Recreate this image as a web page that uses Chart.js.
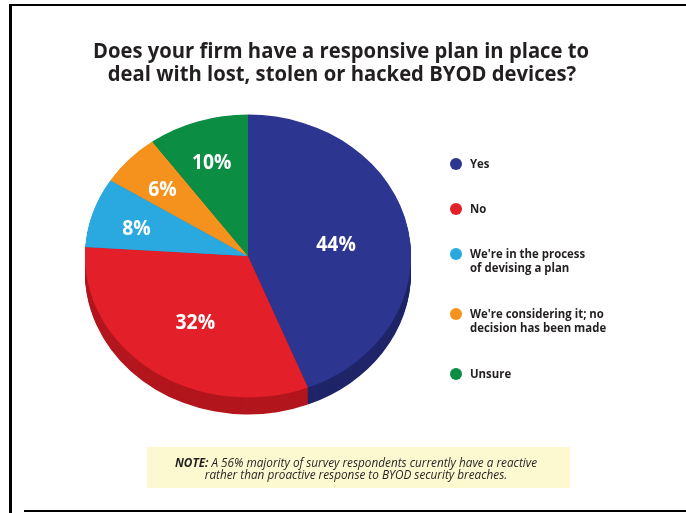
<!DOCTYPE html>
<html>
<head>
<meta charset="utf-8">
<script src="https://cdn.jsdelivr.net/npm/chart.js@4"></script>
<style>
  html, body { margin: 0; padding: 0; background: #fff; }
  #wrap { position: relative; width: 686px; height: 513px; overflow: hidden; }
  #chart { position: absolute; left: 0; top: 0; }
  .rule { position: absolute; background: #000; }
</style>
</head>
<body>
<div id="wrap">
  <canvas id="chart" width="686" height="513"></canvas>
  <div class="rule" style="left:9px;top:4px;width:3px;height:509px"></div>
  <div class="rule" style="left:9px;top:4px;width:677px;height:2px"></div>
  <div class="rule" style="left:24px;top:510px;width:662px;height:2px"></div>
</div>
<script>
// chart data
const titleLines = ['Does your firm have a responsive plan in place to', 'deal with lost, stolen or hacked BYOD devices?'];
const categories = [['Yes'], ['No'], ["We're in the process", 'of devising a plan'], ["We're considering it; no", 'decision has been made'], ['Unsure']];
const shares = [44, 32, 8, 6, 10];
const noteLines = [['NOTE:', ' A 56% majority of survey respondents currently have a reactive'], ['', 'rather than proactive response to BYOD security breaches.']];

const faceColors = ['#2c3590', '#e3202a', '#29a9e0', '#f5921e', '#0c8d44'];
const sideColors = ['#1f2568', '#b3161d', '#1c85b3', '#c77214', '#076a31'];

const tilt = 0.868;   // vertical squash of the pie top
const depth = 17;     // thickness of the pie edge, px

// draw text squeezed horizontally (stands in for a condensed face)
function squeezeText(ctx, text, x, y, sx) {
  ctx.save();
  ctx.translate(x, y);
  ctx.scale(sx, 1);
  ctx.fillText(text, 0, 0);
  ctx.restore();
}

const pie3d = {
  id: 'pie3d',
  beforeDatasetsDraw(chart) {
    const ctx = chart.ctx;
    const arcs = chart.getDatasetMeta(0).data;
    const { x, y } = arcs[0].getProps(['x', 'y']);
    ctx.save();
    ctx.translate(x, y);
    ctx.scale(1, tilt);
    ctx.translate(-x, -y);
    // the side of the pie: stacked copies, darker, pushed down
    for (let d = depth; d > 0; d--) {
      arcs.forEach((arc, i) => {
        const p = arc.getProps(['x', 'y', 'startAngle', 'endAngle', 'outerRadius']);
        const cy = p.y + d / tilt;
        ctx.beginPath();
        ctx.moveTo(p.x, cy);
        ctx.arc(p.x, cy, p.outerRadius, p.startAngle, p.endAngle);
        ctx.closePath();
        ctx.fillStyle = sideColors[i];
        ctx.fill();
      });
    }
  },
  afterDatasetsDraw(chart) {
    const ctx = chart.ctx;
    ctx.restore();
    // percentage labels on the slices
    const arcs = chart.getDatasetMeta(0).data;
    ctx.save();
    ctx.fillStyle = '#fff';
    ctx.font = 'bold 21px "Open Sans"';
    ctx.textAlign = 'center';
    ctx.textBaseline = 'middle';
    arcs.forEach((arc, i) => {
      const p = arc.getProps(['x', 'y', 'startAngle', 'endAngle', 'outerRadius']);
      const mid = (p.startAngle + p.endAngle) / 2;
      const f = shares[i] >= 20 ? 0.55 : 0.72;
      const lx = p.x + Math.cos(mid) * p.outerRadius * f;
      const ly = p.y + Math.sin(mid) * p.outerRadius * f * tilt + 4;
      squeezeText(ctx, shares[i] + '%', lx, ly, 0.92);
    });
    ctx.restore();
  },
  afterDraw(chart) {
    const ctx = chart.ctx;
    ctx.save();
    // title
    ctx.fillStyle = '#231f20';
    ctx.font = 'bold 22px "Open Sans"';
    ctx.textAlign = 'center';
    ctx.textBaseline = 'alphabetic';
    squeezeText(ctx, titleLines[0], 341, 58, 0.92);
    squeezeText(ctx, titleLines[1], 342, 81, 0.92);

    // legend
    ctx.textAlign = 'left';
    ctx.font = 'bold 12px "Open Sans"';
    let ly = 164;
    categories.forEach((lines, i) => {
      ctx.beginPath();
      ctx.arc(456, ly, 6, 0, Math.PI * 2);
      ctx.fillStyle = faceColors[i];
      ctx.fill();
      ctx.fillStyle = '#231f20';
      lines.forEach((t, j) => squeezeText(ctx, t, 470, ly + 4 + j * 14, 0.95));
      ly += 30 + 15 * lines.length;
    });

    // note box
    ctx.fillStyle = '#fcf9d0';
    ctx.fillRect(147, 447, 423, 41);
    ctx.fillStyle = '#231f20';
    const sx = 0.98;
    [467, 479].forEach((by, k) => {
      const [bold, rest] = noteLines[k];
      ctx.font = 'italic bold 12px "Open Sans"';
      const wb = ctx.measureText(bold).width * sx;
      ctx.font = 'italic 12px "Open Sans"';
      const wr = ctx.measureText(rest).width * sx;
      const x0 = 356 - (wb + wr) / 2;
      ctx.font = 'italic bold 12px "Open Sans"';
      squeezeText(ctx, bold, x0, by, sx);
      ctx.font = 'italic 12px "Open Sans"';
      squeezeText(ctx, rest, x0 + wb, by, sx);
    });
    ctx.restore();
  }
};

new Chart(document.getElementById('chart'), {
  type: 'pie',
  data: {
    labels: categories,
    datasets: [{
      data: shares,
      backgroundColor: faceColors,
      borderWidth: 0,
      hoverOffset: 0,
      clip: false
    }]
  },
  options: {
    responsive: false,
    animation: false,
    layout: { padding: { left: 85, right: 275, top: 93, bottom: 94 } },
    plugins: {
      legend: { display: false },
      title: { display: false },
      tooltip: { enabled: false }
    },
    events: []
  },
  plugins: [pie3d]
});
</script>
</body>
</html>
